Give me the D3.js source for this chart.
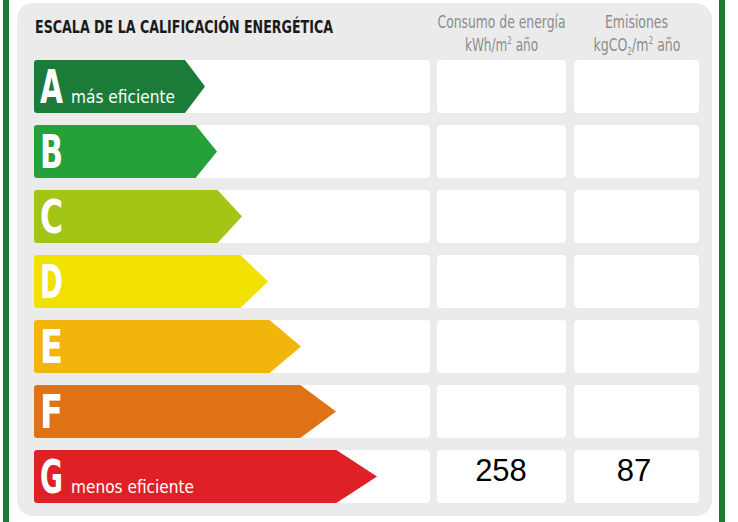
<!DOCTYPE html>
<html>
<head>
<meta charset="utf-8">
<script src="https://cdn.jsdelivr.net/npm/d3@7"></script>
<style>
  body { margin: 0; background: #fff; }
  svg { display: block; }
</style>
</head>
<body>
<script>
// energy rating scale data
const grades = ['A', 'B', 'C', 'D', 'E', 'F', 'G']
const gradeNotes = ['más eficiente', '', '', '', '', '', 'menos eficiente']
const barLengths = [171, 183, 208, 234, 267, 302, 343] // arrow length per grade
const consumo = [null, null, null, null, null, null, 258]   // kWh/m2 año
const emisiones = [null, null, null, null, null, null, 87]  // kgCO2/m2 año
const title = 'ESCALA DE LA CALIFICACIÓN ENERGÉTICA'

const gradeColors = ['#1b7c3a', '#24a239', '#a3c516', '#f0e100', '#f1b50b', '#df7214', '#de2126']

const width = 738
const height = 522
const condensed = '"Liberation Sans Narrow", "Arial Narrow", "DejaVu Sans Condensed", sans-serif'

const svg = d3.select('body').append('svg')
    .attr('width', width)
    .attr('height', height)

// outer green frame lines
svg.append('rect').attr('x', 3).attr('y', 0).attr('width', 6).attr('height', height).attr('fill', '#1c7a37')
svg.append('rect').attr('x', 719).attr('y', 0).attr('width', 6).attr('height', height).attr('fill', '#1c7a37')

// grey panel
svg.append('rect')
    .attr('x', 17).attr('y', 3)
    .attr('width', 695).attr('height', 513)
    .attr('rx', 16)
    .attr('fill', '#ebebeb')

const y = d3.scaleBand()
    .domain(grades)
    .range([60, 503])
    .paddingInner(0.185)
    .paddingOuter(0)

const x = d3.scaleLinear()
    .domain([0, d3.max(barLengths)])
    .range([34, 377])

const color = d3.scaleOrdinal().domain(grades).range(gradeColors)

const rows = grades.map((g, i) => ({
    grade: g,
    note: gradeNotes[i],
    len: barLengths[i],
    consumo: consumo[i],
    emisiones: emisiones[i]
}))

// white cells behind each row
const cols = [[34, 430], [437, 566], [574, 699]]
const cells = svg.append('g')
rows.forEach(d => {
    cols.forEach(c => {
        cells.append('rect')
            .attr('x', c[0]).attr('y', y(d.grade))
            .attr('width', c[1] - c[0]).attr('height', y.bandwidth())
            .attr('rx', 4)
            .attr('fill', '#fff')
    })
})

// arrows
function arrowPath(d) {
    const x0 = x(0), tip = x(d.len)
    const t = y(d.grade), b = t + y.bandwidth(), m = t + y.bandwidth() / 2
    const depth = 20 + (tip - x(barLengths[0])) * 0.12
    const r = 3
    return `M${x0 + r},${t} L${tip - depth},${t} L${tip},${m} L${tip - depth},${b} L${x0 + r},${b}
            Q${x0},${b} ${x0},${b - r} L${x0},${t + r} Q${x0},${t} ${x0 + r},${t} Z`
}

svg.selectAll('.arrow')
    .data(rows)
    .enter()
    .append('path')
    .attr('class', 'arrow')
    .attr('d', arrowPath)
    .attr('fill', d => color(d.grade))

svg.selectAll('.letter')
    .data(rows)
    .enter()
    .append('text')
    .attr('class', 'letter')
    .attr('x', x(0) + 6)
    .attr('y', d => y(d.grade) + 43)
    .attr('font-family', condensed)
    .attr('font-weight', 'bold')
    .attr('font-size', 46)
    .attr('fill', '#fff')
    .attr('textLength', 23)
    .attr('lengthAdjust', 'spacingAndGlyphs')
    .text(d => d.grade)

svg.selectAll('.note')
    .data(rows.filter(d => d.note))
    .enter()
    .append('text')
    .attr('class', 'note')
    .attr('x', x(0) + 37)
    .attr('y', d => y(d.grade) + 43)
    .attr('font-family', condensed)
    .attr('font-size', 18)
    .attr('fill', '#fff')
    .attr('textLength', d => d.grade === 'A' ? 104 : 123)
    .attr('lengthAdjust', 'spacingAndGlyphs')
    .text(d => d.note)

// values
const valueCols = [{ key: 'consumo', cx: 501 }, { key: 'emisiones', cx: 634 }]
valueCols.forEach(c => {
    svg.selectAll('.val-' + c.key)
        .data(rows.filter(d => d[c.key] != null))
        .enter()
        .append('text')
        .attr('x', c.cx)
        .attr('y', d => y(d.grade) + 31)
        .attr('text-anchor', 'middle')
        .attr('font-family', 'Liberation Sans, Arial, sans-serif')
        .attr('font-size', 31)
        .attr('fill', '#000')
        .text(d => d[c.key])
})

// title
svg.append('text')
    .attr('x', 35).attr('y', 33)
    .attr('font-family', condensed)
    .attr('font-weight', 'bold')
    .attr('font-size', 18)
    .attr('fill', '#1a1a1a')
    .attr('textLength', 298)
    .attr('lengthAdjust', 'spacingAndGlyphs')
    .text(title)

// column headers
const hdr = svg.append('g')
    .attr('font-family', condensed)
    .attr('font-size', 17)
    .attr('fill', '#8c8c8c')
    .attr('text-anchor', 'middle')

hdr.append('text').attr('x', 501.5).attr('y', 28)
    .attr('textLength', 128).attr('lengthAdjust', 'spacingAndGlyphs')
    .text('Consumo de energía')
const h1 = hdr.append('text').attr('transform', 'translate(501.5,51) scale(0.79,1)')
h1.append('tspan').text('kWh/m')
h1.append('tspan').attr('font-size', 10).attr('dy', -7).text('2')
h1.append('tspan').attr('dy', 7).text(' año')

hdr.append('text').attr('x', 636.5).attr('y', 28)
    .attr('textLength', 63).attr('lengthAdjust', 'spacingAndGlyphs')
    .text('Emisiones')
const h2 = hdr.append('text').attr('transform', 'translate(637,51) scale(0.82,1)')
h2.append('tspan').text('kgCO')
h2.append('tspan').attr('font-size', 10).attr('dy', 4).text('2')
h2.append('tspan').attr('dy', -4).text('/m')
h2.append('tspan').attr('font-size', 10).attr('dy', -7).text('2')
h2.append('tspan').attr('dy', 7).text(' año')
</script>
</body>
</html>
